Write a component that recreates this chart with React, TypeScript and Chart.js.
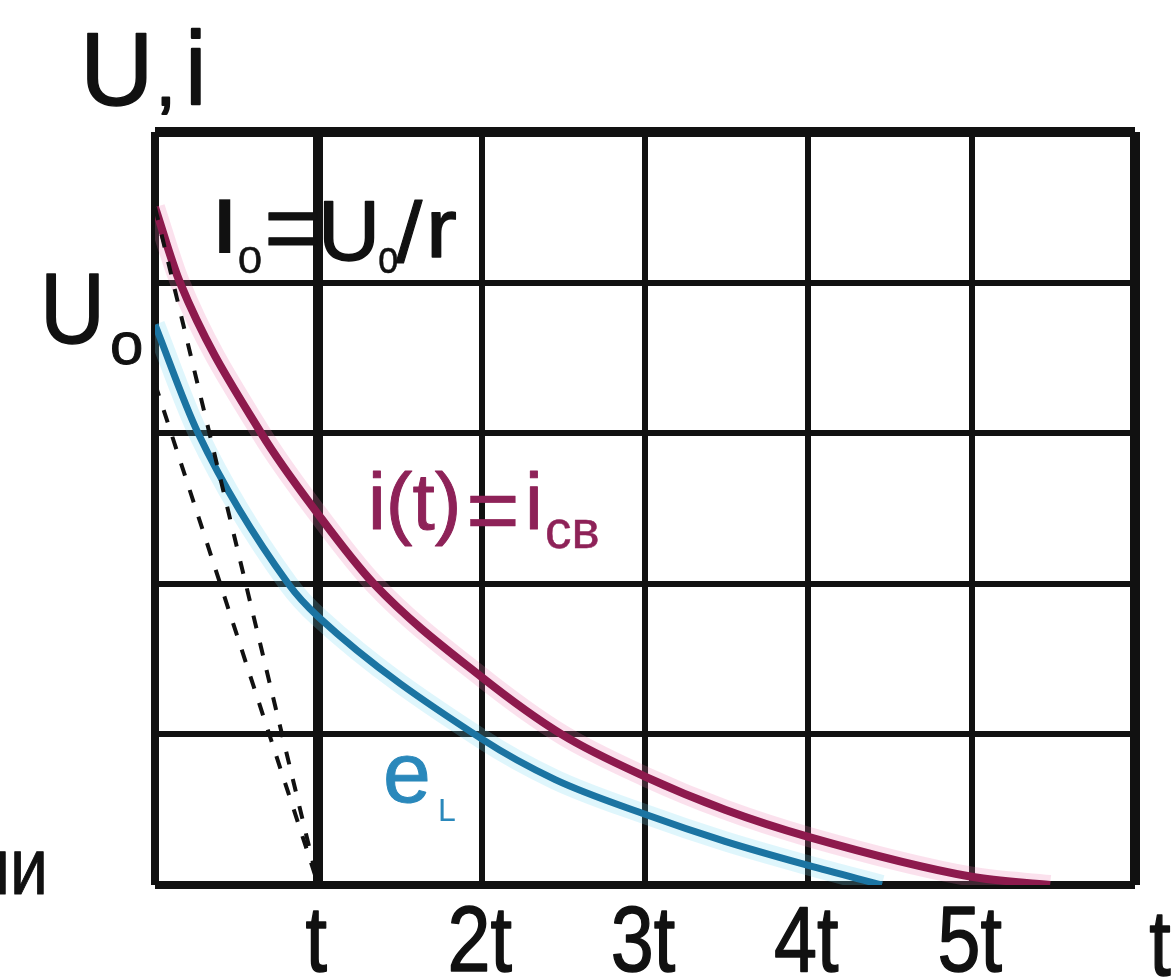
import React, { useEffect, useRef } from "react";
import { Chart, registerables } from "chart.js";

Chart.register(...registerables);

// Time axis in units of the time constant, vertical axis in grid cells.
const currentTimes = [0, 0.153, 0.65, 1.0, 1.34, 2.0, 2.49, 3.0, 3.49, 4.0, 5.0, 5.48];
const currentValues = [4.5, 4.0, 3.0, 2.46, 2.0, 1.38, 1.0, 0.72, 0.5, 0.32, 0.055, 0.0];

const emfTimes = [0, 0.264, 0.816, 1.0, 2.0, 2.45, 3.0, 3.49, 4.0, 4.45];
const emfValues = [3.72, 3.0, 2.0, 1.78, 0.97, 0.7, 0.47, 0.29, 0.13, 0.0];

// Initial tangents: both reach zero after one time constant.
const tangentTimes = [0, 1];
const currentTangentValues = [4.5, 0];
const emfTangentValues = [3.33, 0];

const tickPositions = [1, 2, 3, 4, 5];
const tickLabels = ["t", "2t", "3t", "4t", "5t"];

const CRIMSON = "#8d1a4d";
const BLUE = "#1b74a2";
const CRIMSON_TEXT = "#8e2258";
const BLUE_TEXT = "#2a88bb";
const FONT = '"Liberation Sans", Arial, sans-serif';

const pts = (xs: number[], ys: number[]) => xs.map((x, i) => ({ x, y: ys[i] }));

type TextOpts = {
  scaleX?: number;
  bold?: boolean;
  stroke?: number;
  align?: CanvasTextAlign;
};

function drawText(
  ctx: CanvasRenderingContext2D,
  text: string,
  x: number,
  y: number,
  size: number,
  color: string,
  opts: TextOpts = {}
) {
  const { scaleX = 1, bold = false, stroke = 0, align = "left" } = opts;
  ctx.save();
  ctx.font = `${bold ? "bold " : ""}${size}px ${FONT}`;
  ctx.fillStyle = color;
  ctx.strokeStyle = color;
  ctx.textAlign = align;
  ctx.textBaseline = "alphabetic";
  ctx.translate(x, y);
  ctx.scale(scaleX, 1);
  ctx.fillText(text, 0, 0);
  if (stroke > 0) {
    ctx.lineWidth = stroke;
    ctx.lineJoin = "round";
    ctx.strokeText(text, 0, 0);
  }
  ctx.restore();
}

const labelsPlugin = {
  id: "circuitLabels",
  afterDraw(chart: Chart) {
    const ctx = chart.ctx;
    const xScale = chart.scales.x;

    // time-constant tick labels under the grid
    tickPositions.forEach((v, i) => {
      const px = xScale.getPixelForValue(v);
      drawText(ctx, tickLabels[i], px - 2, 971, 92, "#111", { scaleX: 0.84, stroke: 1.5, align: "center" });
    });
    // axis names
    drawText(ctx, "t", 1160, 975, 92, "#111", { scaleX: 0.84, stroke: 1.5, align: "center" });
    drawText(ctx, "U", 80, 105, 104, "#111", { scaleX: 0.98, stroke: 1.5 });
    drawText(ctx, ",", 156, 105, 70, "#111", { stroke: 2 });
    drawText(ctx, "i", 186, 104, 104, "#111", { scaleX: 0.85, stroke: 2.5 });

    // U0 on the vertical axis
    drawText(ctx, "U", 40, 343, 100, "#111", { scaleX: 0.9, stroke: 1.5 });
    drawText(ctx, "o", 110, 364, 60, "#111", { stroke: 1 });

    // I0 = U0 / r
    drawText(ctx, "I", 214, 253, 77, "#111", { bold: true });
    drawText(ctx, "0", 238, 273, 36, "#111", { scaleX: 1.2, stroke: 0.5 });
    drawText(ctx, "=", 264, 262, 100, "#111", { stroke: 1 });
    drawText(ctx, "U", 318, 260, 86, "#111", { stroke: 1.5 });
    drawText(ctx, "o", 378, 273, 46, "#111", { scaleX: 0.8, stroke: 0.5 });
    drawText(ctx, "/", 396, 262, 86, "#111", { scaleX: 1.1, stroke: 1 });
    drawText(ctx, "r", 426, 257, 84, "#111", { scaleX: 1.1, stroke: 1.5 });

    // i(t) = i_св
    drawText(ctx, "i(t)", 368, 529, 80, CRIMSON_TEXT, { stroke: 1 });
    drawText(ctx, "=", 466, 542, 92, CRIMSON_TEXT, { stroke: 0.5 });
    drawText(ctx, "i", 525, 529, 80, CRIMSON_TEXT, { stroke: 1 });
    drawText(ctx, "св", 545, 548, 53, CRIMSON_TEXT, { stroke: 0.5 });

    // e_L
    drawText(ctx, "e", 383, 802, 86, BLUE_TEXT, { stroke: 1 });
    drawText(ctx, "L", 438, 821, 32, BLUE_TEXT);

    // cut-off word at the lower left
    drawText(ctx, "ии", -28, 894, 80, "#111", { scaleX: 0.85, stroke: 1 });
  },
};

const gridWidthX = (v: number) => (v === 0 ? 8 : v === 6 ? 10 : v === 1 ? 10 : 6);
const gridWidthY = (v: number) => (v === 0 ? 8 : v === 5 ? 10 : 6);

const curve = (xs: number[], ys: number[], color: string, width: number, order: number) => ({
  data: pts(xs, ys),
  borderColor: color,
  borderWidth: width,
  cubicInterpolationMode: "monotone" as const,
  pointRadius: 0,
  order,
});

export default function App() {
  const canvasRef = useRef<HTMLCanvasElement | null>(null);

  useEffect(() => {
    if (!canvasRef.current) return;
    const chart = new Chart(canvasRef.current, {
      type: "line",
      data: {
        datasets: [
          {
            data: pts(tangentTimes, currentTangentValues),
            borderColor: "#111",
            borderWidth: 4,
            borderDash: [13, 15],
            pointRadius: 0,
            order: 1,
          },
          {
            data: pts(tangentTimes, emfTangentValues),
            borderColor: "#111",
            borderWidth: 4,
            borderDash: [13, 15],
            pointRadius: 0,
            order: 1,
          },
          curve(currentTimes, currentValues, CRIMSON, 8, 2),
          curve(emfTimes, emfValues, BLUE, 7, 3),
          curve(currentTimes, currentValues, "rgba(236, 120, 175, 0.22)", 20, 10),
          curve(emfTimes, emfValues, "rgba(110, 215, 240, 0.22)", 20, 10),
        ],
      },
      options: {
        animation: false,
        responsive: false,
        devicePixelRatio: 1,
        layout: { padding: { left: 155, right: 41, top: 132, bottom: 95 } },
        plugins: { legend: { display: false }, tooltip: { enabled: false } },
        scales: {
          x: {
            type: "linear",
            min: 0,
            max: 6,
            ticks: { display: false, stepSize: 1 },
            grid: {
              color: "#111",
              drawTicks: false,
              lineWidth: (c: any) => gridWidthX(c.tick ? c.tick.value : -1),
            },
            border: { display: false },
          },
          y: {
            type: "linear",
            min: 0,
            max: 5,
            ticks: { display: false, stepSize: 1 },
            grid: {
              color: "#111",
              drawTicks: false,
              lineWidth: (c: any) => gridWidthY(c.tick ? c.tick.value : -1),
            },
            border: { display: false },
          },
        },
      },
      plugins: [labelsPlugin],
    });
    return () => chart.destroy();
  }, []);

  return (
    <div style={{ position: "absolute", left: 0, top: 0, width: 1176, height: 980, background: "#fff" }}>
      <canvas ref={canvasRef} width={1176} height={980} style={{ display: "block" }} />
    </div>
  );
}
